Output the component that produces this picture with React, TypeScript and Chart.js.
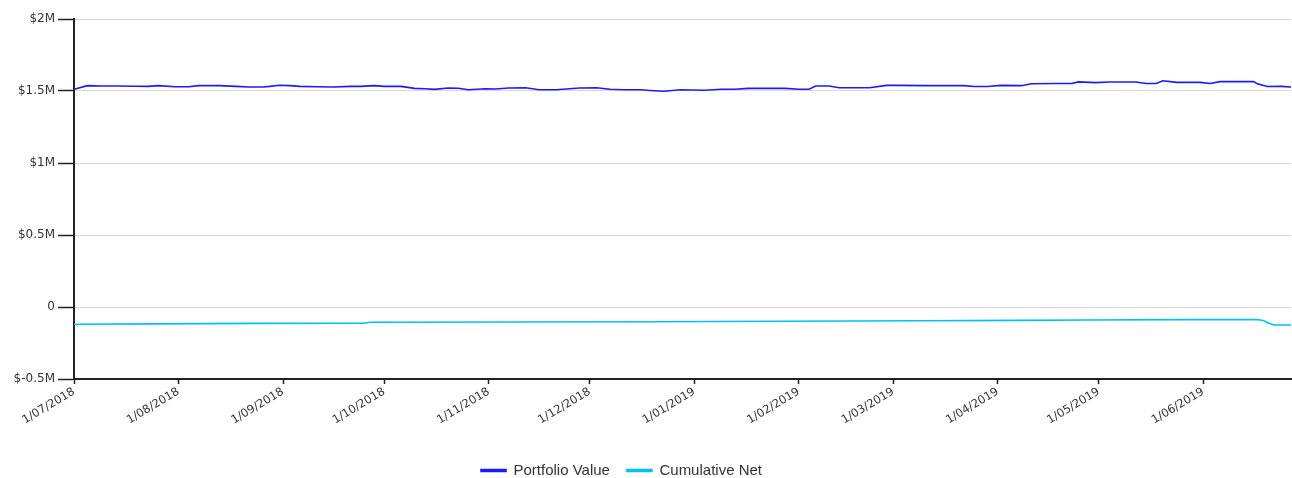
import React, { useEffect, useRef } from "react";
import { Chart, registerables } from "chart.js";

Chart.register(...registerables);

const START = "2018-07-01";
const END = "2019-06-27";

const monthTickDates = [
  "2018-07-01", "2018-08-01", "2018-09-01", "2018-10-01", "2018-11-01", "2018-12-01",
  "2019-01-01", "2019-02-01", "2019-03-01", "2019-04-01", "2019-05-01", "2019-06-01",
];
const monthTickLabels = [
  "1/07/2018", "1/08/2018", "1/09/2018", "1/10/2018", "1/11/2018", "1/12/2018",
  "1/01/2019", "1/02/2019", "1/03/2019", "1/04/2019", "1/05/2019", "1/06/2019",
];

const yTickValues = [-500000, 0, 500000, 1000000, 1500000, 2000000];

const pvDates = [
  "2018-07-01", "2018-07-05", "2018-07-09", "2018-07-14", "2018-07-19", "2018-07-23",
  "2018-07-26", "2018-07-31", "2018-08-04", "2018-08-07", "2018-08-13", "2018-08-18",
  "2018-08-22", "2018-08-26", "2018-08-28", "2018-08-31", "2018-09-03", "2018-09-06",
  "2018-09-11", "2018-09-16", "2018-09-21", "2018-09-24", "2018-09-28", "2018-10-01",
  "2018-10-06", "2018-10-10", "2018-10-13", "2018-10-16", "2018-10-20", "2018-10-23",
  "2018-10-26", "2018-10-31", "2018-11-03", "2018-11-07", "2018-11-12", "2018-11-16",
  "2018-11-21", "2018-11-24", "2018-11-28", "2018-12-03", "2018-12-07", "2018-12-11",
  "2018-12-16", "2018-12-20", "2018-12-23", "2018-12-28", "2018-12-31", "2019-01-04",
  "2019-01-09", "2019-01-13", "2019-01-17", "2019-01-22", "2019-01-28", "2019-02-01",
  "2019-02-04", "2019-02-06", "2019-02-10", "2019-02-13", "2019-02-18", "2019-02-22",
  "2019-02-27", "2019-03-02", "2019-03-11", "2019-03-22", "2019-03-25", "2019-03-29",
  "2019-04-02", "2019-04-08", "2019-04-11", "2019-04-18", "2019-04-23", "2019-04-25",
  "2019-04-30", "2019-05-04", "2019-05-12", "2019-05-15", "2019-05-18", "2019-05-20",
  "2019-05-24", "2019-05-31", "2019-06-03", "2019-06-06", "2019-06-16", "2019-06-17",
  "2019-06-20", "2019-06-24", "2019-06-27",
];
const pvValues = [
  1512000, 1537000, 1535000, 1535000, 1533000, 1532000,
  1537000, 1530000, 1529000, 1537000, 1537000, 1532000,
  1528000, 1528000, 1532000, 1540000, 1537000, 1532000,
  1529000, 1528000, 1532000, 1532000, 1537000, 1532000,
  1532000, 1518000, 1516000, 1511000, 1521000, 1519000,
  1509000, 1516000, 1514000, 1521000, 1523000, 1509000,
  1509000, 1514000, 1521000, 1523000, 1512000, 1509000,
  1509000, 1502000, 1498000, 1509000, 1507000, 1505000,
  1512000, 1512000, 1518000, 1518000, 1518000, 1512000,
  1512000, 1535000, 1535000, 1523000, 1523000, 1523000,
  1539000, 1539000, 1537000, 1537000, 1531000, 1531000,
  1539000, 1537000, 1550000, 1552000, 1552000, 1563000,
  1558000, 1563000, 1563000, 1552000, 1552000, 1571000,
  1560000, 1560000, 1552000, 1565000, 1565000, 1550000,
  1531000, 1532000, 1528000,
];

const cnDates = [
  "2018-07-01", "2018-07-24", "2018-08-23", "2018-09-25", "2018-09-27", "2018-11-08",
  "2018-12-18", "2019-01-27", "2019-03-08", "2019-04-07", "2019-04-27", "2019-05-27",
  "2019-06-17", "2019-06-19", "2019-06-20", "2019-06-22", "2019-06-27",
];
const cnValues = [
  -120000, -117000, -114000, -113000, -106000, -104000,
  -102000, -99000, -95000, -93000, -90000, -88000,
  -87000, -95000, -109000, -125000, -125000,
];

const DAY = 86400000;
const toDay = (s: string) => {
  const [y, m, d] = s.split("-").map(Number);
  const [y0, m0, d0] = START.split("-").map(Number);
  return Math.round((Date.UTC(y, m - 1, d) - Date.UTC(y0, m0 - 1, d0)) / DAY);
};

const legendShift = {
  id: "legendShift",
  afterLayout(chart: any) {
    const l = chart.legend;
    if (!l) return;
    const dx = -24;
    const dy = 10;
    l.left += dx;
    l.right += dx;
    l.top += dy;
    l.bottom += dy;
  },
};

export default function App() {
  const ref = useRef<HTMLCanvasElement | null>(null);

  useEffect(() => {
    if (!ref.current) return;
    const tickDays = monthTickDates.map(toDay);
    const chart = new Chart(ref.current, {
      type: "line",
      data: {
        datasets: [
          {
            label: "Portfolio Value",
            data: pvDates.map((d, i) => ({ x: toDay(d), y: pvValues[i] })),
            borderColor: "#1a1aff",
            backgroundColor: "#1a1aff",
            borderWidth: 1.6,
            pointRadius: 0,
            tension: 0,
          },
          {
            label: "Cumulative Net",
            data: cnDates.map((d, i) => ({ x: toDay(d), y: cnValues[i] })),
            borderColor: "#00bfff",
            backgroundColor: "#00bfff",
            borderWidth: 1.6,
            pointRadius: 0,
            tension: 0,
          },
        ],
      },
      options: {
        animation: false,
        responsive: true,
        maintainAspectRatio: false,
        layout: { padding: { top: 19, right: 1, left: 0, bottom: 0 } },
        plugins: {
          tooltip: { enabled: false },
          legend: {
            position: "bottom",
            labels: {
              boxWidth: 25,
              boxHeight: 2,
              padding: 17,
              color: "#333",
              font: { family: "'Liberation Sans', Arial, sans-serif", size: 15 },
            },
          },
        },
        scales: {
          x: {
            type: "linear",
            min: toDay(START),
            max: toDay(END),
            afterBuildTicks: (scale: any) => {
              scale.ticks = tickDays.map((v) => ({ value: v }));
            },
            afterFit: (scale: any) => {
              scale.height = 57;
            },
            ticks: {
              autoSkip: false,
              minRotation: 31,
              maxRotation: 31,
              padding: 1,
              color: "#333",
              font: { family: "'DejaVu Sans', Verdana, sans-serif", size: 11.5 },
              callback: (value: any) => {
                const i = tickDays.indexOf(Number(value));
                return i >= 0 ? monthTickLabels[i] : "";
              },
            },
            grid: {
              drawOnChartArea: false,
              drawTicks: true,
              tickLength: 5,
              tickColor: "#222",
              tickWidth: 1.5,
            },
            border: { color: "#222", width: 2 },
          },
          y: {
            type: "linear",
            min: -500000,
            max: 2000000,
            afterBuildTicks: (scale: any) => {
              scale.ticks = yTickValues.map((v) => ({ value: v }));
            },
            afterFit: (scale: any) => {
              scale.width = 74;
            },
            ticks: {
              padding: 3,
              color: "#333",
              font: { family: "'DejaVu Sans', Verdana, sans-serif", size: 12 },
              callback: (value: any) => {
                const v = Number(value);
                if (v === 0) return "0";
                return "$" + v / 1000000 + "M";
              },
            },
            grid: {
              color: "#d8d8d8",
              lineWidth: 1,
              tickLength: 16,
              tickColor: "#222",
              tickWidth: 1.5,
            },
            border: { color: "#222", width: 2 },
          },
        },
      },
      plugins: [legendShift],
    });
    return () => chart.destroy();
  }, []);

  return (
    <div style={{ position: "fixed", left: 0, top: 0, width: 1292, height: 478, overflow: "hidden", background: "#fff" }}>
      <canvas ref={ref} />
    </div>
  );
}
